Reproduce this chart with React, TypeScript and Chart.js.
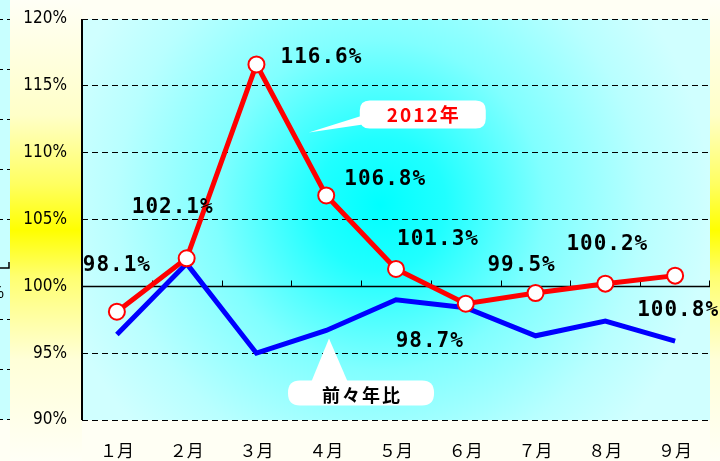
import React, { useEffect, useRef } from "react";
import { Chart, registerables } from "chart.js";
Chart.register(...registerables);

const months = ["１月", "２月", "３月", "４月", "５月", "６月", "７月", "８月", "９月"];
const series2012 = [98.1, 102.1, 116.6, 106.8, 101.3, 98.7, 99.5, 100.2, 100.8];
const seriesPrev = [96.4, 101.7, 95.0, 96.7, 99.0, 98.4, 96.3, 97.4, 95.9];
const yMin = 90;
const yMax = 120;
const yStep = 5;
const baseValue = 100;
const label2012 = "2012年";
const labelPrev = "前々年比";
// label offsets (px) from each 2012 point
const labelOffsets: [number, number][] = [
  [0, -46], [-14, -51], [65, -7], [59, -16], [42, -29], [-36, 38], [-14, -27], [2, -39], [3, 35],
];

function roundRect(ctx: CanvasRenderingContext2D, x: number, y: number, w: number, h: number, r: number) {
  ctx.beginPath();
  ctx.moveTo(x + r, y);
  ctx.lineTo(x + w - r, y);
  ctx.quadraticCurveTo(x + w, y, x + w, y + r);
  ctx.lineTo(x + w, y + h - r);
  ctx.quadraticCurveTo(x + w, y + h, x + w - r, y + h);
  ctx.lineTo(x + r, y + h);
  ctx.quadraticCurveTo(x, y + h, x, y + h - r);
  ctx.lineTo(x, y + r);
  ctx.quadraticCurveTo(x, y, x + r, y);
  ctx.closePath();
}

const bgPlugin = {
  id: "bgPlugin",
  beforeDraw(chart: any) {
    const { ctx, width, height } = chart;
    const { left, right, top, bottom } = chart.chartArea;
    ctx.save();
    ctx.fillStyle = "#fffff4";
    ctx.fillRect(0, 0, width, height);
    const yg = ctx.createLinearGradient(0, 0, 0, height);
    yg.addColorStop(0, "#fffff6");
    yg.addColorStop(0.25, "#ffffc8");
    yg.addColorStop(0.4, "#ffff60");
    yg.addColorStop(0.5, "#ffff00");
    yg.addColorStop(0.6, "#ffff70");
    yg.addColorStop(0.78, "#ffffd8");
    yg.addColorStop(1, "#fffff6");
    ctx.fillStyle = yg;
    ctx.fillRect(10, 0, left - 10, height);
    ctx.fillRect(right, 0, width - right, height);
    // neighbouring panel on the far left
    ctx.fillStyle = "#c8ffff";
    ctx.fillRect(0, 0, 10, bottom);
    ctx.strokeStyle = "#000";
    ctx.lineWidth = 1;
    ctx.setLineDash([6, 4]);
    for (let k = 0; k < 9; k++) {
      if (k === 5) continue;
      const yy = Math.round(top + k * 50) + 0.5;
      ctx.beginPath();
      ctx.moveTo(-3, yy);
      ctx.lineTo(10, yy);
      ctx.stroke();
    }
    ctx.setLineDash([]);
    ctx.lineWidth = 1.5;
    ctx.beginPath();
    ctx.moveTo(0, top + 249);
    ctx.lineTo(9, top + 249);
    ctx.lineTo(9, top + 243);
    ctx.stroke();
    ctx.fillStyle = "#000";
    ctx.font = "16px 'Liberation Sans Narrow', sans-serif";
    ctx.textAlign = "right";
    ctx.textBaseline = "middle";
    ctx.fillText("%", 4, top + 275);
    // plot area radial gradient
    const rg = ctx.createRadialGradient(380, 205, 0, 380, 205, 330);
    rg.addColorStop(0, "#00ffff");
    rg.addColorStop(0.2, "#20ffff");
    rg.addColorStop(0.5, "#80ffff");
    rg.addColorStop(0.8, "#b8ffff");
    rg.addColorStop(1, "#d0ffff");
    ctx.fillStyle = rg;
    ctx.fillRect(left, top, right - left, bottom - top);
    ctx.restore();
  },
};

const overlayPlugin = {
  id: "overlayPlugin",
  beforeDatasetsDraw(chart: any) {
    const { ctx } = chart;
    const { left, right, top, bottom } = chart.chartArea;
    const xs = chart.scales.x;
    const ys = chart.scales.y;
    ctx.save();
    // left axis
    ctx.strokeStyle = "#000";
    ctx.lineWidth = 2;
    ctx.beginPath();
    ctx.moveTo(left, top);
    ctx.lineTo(left, bottom);
    ctx.stroke();
    // base axis at 100%
    const y0 = Math.round(ys.getPixelForValue(baseValue)) + 0.5;
    ctx.lineWidth = 1.5;
    ctx.beginPath();
    ctx.moveTo(left, y0);
    ctx.lineTo(right, y0);
    ctx.stroke();
    ctx.lineWidth = 1;
    for (let i = 1; i <= months.length; i++) {
      const xx =
        i < months.length
          ? Math.round((xs.getPixelForValue(i - 1) + xs.getPixelForValue(i)) / 2) + 0.5
          : right - 0.5;
      ctx.beginPath();
      ctx.moveTo(xx, y0);
      ctx.lineTo(xx, y0 - 6);
      ctx.stroke();
    }
    // 2012 callout
    const t1x = xs.getPixelForValue(2.75);
    const t1y = ys.getPixelForValue(111.5);
    ctx.fillStyle = "#ffffff";
    ctx.beginPath();
    ctx.moveTo(t1x, t1y);
    ctx.lineTo(t1x + 54, t1y - 17);
    ctx.lineTo(t1x + 54, t1y - 8);
    ctx.closePath();
    ctx.fill();
    roundRect(ctx, t1x + 51, t1y - 32, 126, 28, 10);
    ctx.fill();
    ctx.fillStyle = "#ff0000";
    ctx.font = "bold 19px 'Noto Sans CJK JP', sans-serif";
    (ctx as any).letterSpacing = "2px";
    ctx.textAlign = "center";
    ctx.textBaseline = "middle";
    ctx.fillText(label2012, t1x + 115, t1y - 18);
    // previous-year callout
    const t2x = xs.getPixelForValue(3.04);
    const t2y = ys.getPixelForValue(96.1);
    ctx.fillStyle = "#ffffff";
    ctx.beginPath();
    ctx.moveTo(t2x, t2y);
    ctx.lineTo(t2x + 19, t2y + 44);
    ctx.lineTo(t2x - 18, t2y + 44);
    ctx.closePath();
    ctx.fill();
    roundRect(ctx, t2x - 41, t2y + 42, 146, 25, 12);
    ctx.fill();
    ctx.fillStyle = "#000";
    ctx.font = "bold 18px 'Noto Sans CJK JP', sans-serif";
    ctx.fillText(labelPrev, t2x + 33, t2y + 57);
    ctx.restore();
  },
  afterDatasetsDraw(chart: any) {
    const { ctx } = chart;
    const meta = chart.getDatasetMeta(0);
    ctx.save();
    ctx.fillStyle = "#000";
    ctx.font = "bold 21px 'DejaVu Sans Mono', monospace";
    (ctx as any).letterSpacing = "1px";
    ctx.textAlign = "center";
    ctx.textBaseline = "middle";
    meta.data.forEach((pt: any, i: number) => {
      const [dx, dy] = labelOffsets[i];
      ctx.fillText(series2012[i].toFixed(1) + "%", pt.x + dx, pt.y + dy);
    });
    ctx.restore();
  },
};

export default function App() {
  const ref = useRef<HTMLCanvasElement | null>(null);
  useEffect(() => {
    document.body.style.margin = "0";
    const canvas = ref.current!;
    const chart = new Chart(canvas, {
      type: "line",
      data: {
        labels: months,
        datasets: [
          {
            label: label2012,
            data: series2012,
            borderColor: "#ff0000",
            borderWidth: 5,
            pointRadius: 8,
            pointBorderWidth: 2,
            pointBackgroundColor: "#ffffff",
            pointBorderColor: "#ff0000",
            tension: 0,
            order: 0,
          },
          {
            label: labelPrev,
            data: seriesPrev,
            borderColor: "#0000ff",
            borderWidth: 5,
            pointRadius: 0,
            tension: 0,
            order: 1,
          },
        ],
      },
      options: {
        animation: false,
        responsive: false,
        events: [],
        layout: { padding: { top: 19, right: 6, left: 0, bottom: 0 } },
        plugins: { legend: { display: false }, tooltip: { enabled: false } },
        scales: {
          x: {
            offset: true,
            grid: { display: false },
            border: { display: false },
            ticks: {
              color: "#000",
              padding: 12,
              maxRotation: 0,
              autoSkip: false,
              font: { family: "'Noto Sans CJK JP', sans-serif", size: 17 },
            },
            afterFit: (s: any) => {
              s.height = 41;
            },
          },
          y: {
            min: yMin,
            max: yMax,
            grid: {
              color: "#000",
              lineWidth: 1,
              drawTicks: true,
              tickLength: 15,
              tickColor: "rgba(0,0,0,0)",
            },
            border: { display: false, dash: [6, 4] },
            ticks: {
              stepSize: yStep,
              padding: 0,
              color: "#000",
              font: { family: "'Liberation Sans Narrow', 'DejaVu Sans Condensed', sans-serif", size: 17 },
              callback: (v: any) => v + "%",
            },
            afterFit: (s: any) => {
              s.width = 82;
            },
          },
        },
      },
      plugins: [bgPlugin, overlayPlugin],
    });
    return () => chart.destroy();
  }, []);
  return <canvas ref={ref} width={720} height={461} style={{ display: "block" }} />;
}
